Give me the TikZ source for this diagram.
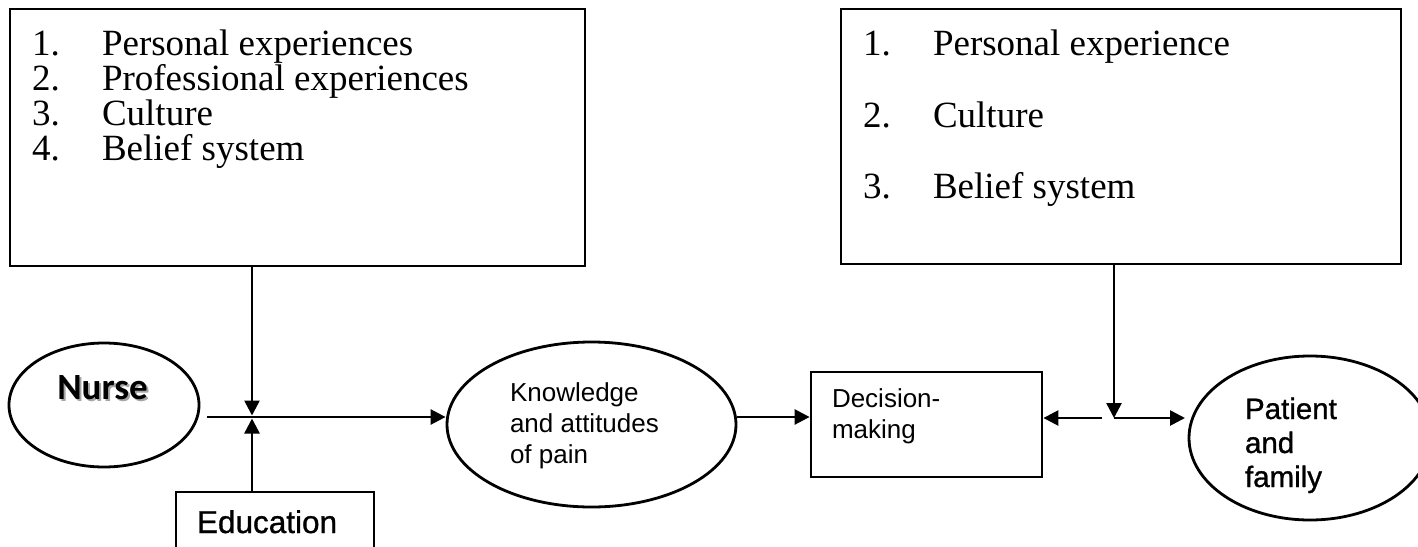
\documentclass[tikz,border=0pt]{standalone}
\usepackage{fontspec}
\setmainfont{Liberation Serif}
\newfontfamily\arialf{Liberation Sans}
\newfontfamily\arialh[FakeBold=1]{Liberation Sans}
\newfontfamily\calib{Carlito}
\usetikzlibrary{shapes.geometric,arrows.meta}
\begin{document}
\begin{tikzpicture}[x=1pt,y=-1pt,
  box/.style={draw,line width=2.8pt,rectangle,inner sep=0},
  oval/.style={draw,line width=2.8pt,ellipse,inner sep=0},
  arr/.style={line width=2.6pt,-{Triangle[length=15pt,width=15pt]}},
  txt/.style={anchor=base west,inner sep=0,outer sep=0},
  serif/.style={font=\fontsize{37}{44}\selectfont},
  sansm/.style={font=\arialf\fontsize{26}{30}\selectfont},
  sansl/.style={font=\arialh\fontsize{29.5}{34}\selectfont},
]
\clip (0,0) rectangle (1418,546);
\fill[white] (0,0) rectangle (1418,546);

% top-left box
\node[box,minimum width=575pt,minimum height=257pt] (lbox) at (297.5,137.5) {};
\node[txt,serif] (l1n) at (32,55) {1.};
\node[txt,serif] (l1t) at (102,55) {Personal experiences};
\node[txt,serif] (l2n) at (32,90) {2.};
\node[txt,serif] (l2t) at (102,90) {Professional experiences};
\node[txt,serif] (l3n) at (32,125) {3.};
\node[txt,serif] (l3t) at (102,125) {Culture};
\node[txt,serif] (l4n) at (32,160) {4.};
\node[txt,serif] (l4t) at (102,160) {Belief system};

% top-right box
\node[box,minimum width=560pt,minimum height=255pt] (rbox) at (1121,136.5) {};
\node[txt,serif] (r1n) at (863,55) {1.};
\node[txt,serif] (r1t) at (933,55) {Personal experience};
\node[txt,serif] (r2n) at (863,127) {2.};
\node[txt,serif] (r2t) at (933,127) {Culture};
\node[txt,serif] (r3n) at (863,198) {3.};
\node[txt,serif] (r3t) at (933,198) {Belief system};

% Nurse
\node[oval,minimum width=190pt,minimum height=124pt] (nurse) at (104,405) {};
\node[anchor=base,inner sep=0,font=\calib\bfseries\fontsize{37}{40}\selectfont,text=black!35] (nurseshadow) at (104.5,401.5) {Nurse};
\node[anchor=base,inner sep=0,font=\calib\bfseries\fontsize{37}{40}\selectfont] (nursetext) at (102.5,399) {Nurse};

% Education
\node[box,minimum width=198pt,minimum height=70pt] (edu) at (275,527) {};
\node[txt,font=\arialh\fontsize{31.5}{36}\selectfont] (edut) at (197,533) {Education};

% Knowledge
\node[oval,minimum width=289pt,minimum height=165pt] (kn) at (591.5,424.5) {};
\node[txt,sansm] (kn1) at (510,401) {Knowledge};
\node[txt,sansm] (kn2) at (510,432) {and attitudes};
\node[txt,sansm] (kn3) at (510,463) {of pain};

% Decision-making
\node[box,minimum width=231pt,minimum height=105pt] (dec) at (926.5,424.5) {};
\node[txt,sansm] (dec1) at (832,407) {Decision-};
\node[txt,sansm] (dec2) at (832,438) {making};

% Patient and family
\node[oval,minimum width=242pt,minimum height=164pt] (pat) at (1310,438) {};
\node[txt,sansl] (pat1) at (1245,419) {Patient};
\node[txt,sansl] (pat2) at (1245,453) {and};
\node[txt,sansl] (pat3) at (1245,487) {family};

% connectors
\coordinate (startn) at (207,417);
\coordinate (j1) at (252,417);
\coordinate (j1d) at (252,415.5);
\coordinate (j1u) at (252,418.5);
\coordinate (j2) at (1114,418);
\coordinate (j2l) at (1102,418);
\coordinate (patin) at (1185,418);

\draw[arr] (startn) -- (startn -| kn.west);
\draw[arr] (lbox.south -| j1) -- (j1d);
\draw[arr] (edu.north -| j1) -- (j1u);
\draw[arr] (kn.east |- j1) -- (dec.west |- j1);
\draw[arr] (j2l) -- (dec.east |- j2);
\draw[arr] (rbox.south -| j2) -- (j2);
\draw[arr] (j2) -- (patin);
\end{tikzpicture}
\end{document}
